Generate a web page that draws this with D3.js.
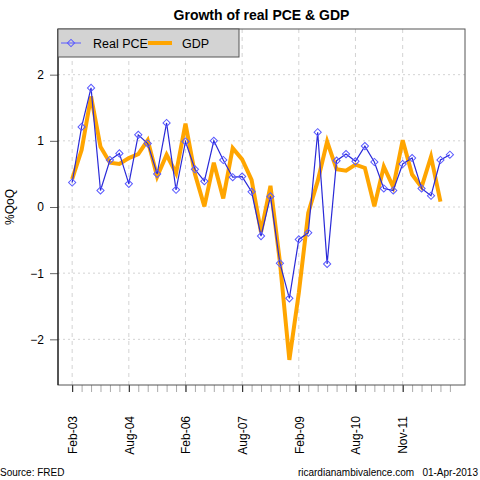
<!DOCTYPE html>
<html>
<head>
<meta charset="utf-8">
<script src="https://cdn.jsdelivr.net/npm/d3@7"></script>
<style>
  body { margin: 0; background: #fff; }
  svg { font-family: "Liberation Sans", Arial, sans-serif; }
</style>
</head>
<body>
<div id="chart"></div>
<script>
// quarterly growth, % q/q, first point = Feb-03
var pce = [0.37, 1.21, 1.80, 0.25, 0.71, 0.81, 0.35, 1.09, 0.96, 0.50,
  1.27, 0.26, 0.99, 0.57, 0.39, 1.00, 0.71, 0.45, 0.46, 0.23,
  -0.44, 0.16, -0.85, -1.38, -0.49, -0.39, 1.13, -0.86, 0.70, 0.80,
  0.69, 0.92, 0.68, 0.28, 0.25, 0.65, 0.74, 0.28, 0.17, 0.71, 0.79]
var gdp = [0.42, 0.86, 1.67, 0.91, 0.67, 0.65, 0.74, 0.80, 1.01, 0.46,
  0.79, 0.51, 1.26, 0.50, 0.01, 0.67, 0.13, 0.89, 0.72, 0.41,
  -0.38, 0.32, -0.83, -2.31, -1.30, -0.09, 0.39, 0.99, 0.57, 0.55,
  0.64, 0.59, 0.01, 0.61, 0.30, 1.01, 0.49, 0.30, 0.76, 0.08]
// x tick labels (quarter index -> label)
var tickIdx = [0, 6, 12, 18, 24, 30, 35]
var tickLabels = ['Feb-03', 'Aug-04', 'Feb-06', 'Aug-07', 'Feb-09', 'Aug-10', 'Nov-11']
var yTicks = [-2, -1, 0, 1, 2]

var width = 480
var height = 480
var box = {left: 58, right: 465, top: 29, bottom: 385}

var svg = d3.select('#chart').append('svg')
  .attr('width', width)
  .attr('height', height)

var x = d3.scaleLinear()
  .domain([-1.5, 41.6])
  .range([box.left, box.right])
var y = d3.scaleLinear()
  .domain([-2.69, 2.69])
  .range([box.bottom, box.top])

// 网格
svg.append('g').selectAll('line')
  .data(yTicks)
  .enter().append('line')
  .attr('x1', box.left).attr('x2', box.right)
  .attr('y1', d => y(d)).attr('y2', d => y(d))
  .attr('stroke', '#d3d3d3')
  .attr('stroke-dasharray', '2,3')
svg.append('g').selectAll('line')
  .data(tickIdx)
  .enter().append('line')
  .attr('x1', d => x(d)).attr('x2', d => x(d))
  .attr('y1', box.top).attr('y2', box.bottom)
  .attr('stroke', '#d3d3d3')
  .attr('stroke-dasharray', '4,4')

// GDP
svg.append('path')
  .datum(gdp)
  .attr('fill', 'none')
  .attr('stroke', '#ffa500')
  .attr('stroke-width', 4)
  .attr('stroke-linejoin', 'miter')
  .attr('d', d3.line().x((d, i) => x(i)).y(d => y(d)))

// Real PCE
svg.append('path')
  .datum(pce)
  .attr('fill', 'none')
  .attr('stroke', '#2a2ad8')
  .attr('stroke-width', 1.2)
  .attr('d', d3.line().x((d, i) => x(i)).y(d => y(d)))
var diamond = d3.symbol().type(d3.symbolSquare).size(26)
svg.append('g').selectAll('path')
  .data(pce)
  .enter().append('path')
  .attr('d', diamond)
  .attr('transform', (d, i) => `translate(${x(i)},${y(d)}) rotate(45)`)
  .attr('fill', 'none')
  .attr('stroke', '#5a5aff')
  .attr('stroke-width', 1)

// 坐标轴
var yAxis = svg.append('g')
  .attr('transform', `translate(${box.left},0)`)
  .call(d3.axisLeft(y).tickValues(yTicks).tickSize(8).tickPadding(6).tickFormat(d3.format('d')))
yAxis.select('.domain').remove()
yAxis.selectAll('.tick line').attr('stroke', '#666')
yAxis.selectAll('text').attr('font-size', 12).attr('fill', '#000').attr('font-family', null)

var xMinor = svg.append('g')
  .attr('transform', `translate(0,${box.bottom})`)
  .call(d3.axisBottom(x).tickValues(d3.range(0, 41)).tickSize(7).tickFormat(''))
xMinor.select('.domain').remove()
xMinor.selectAll('.tick line').attr('stroke', '#aaa')

var xAxis = svg.append('g')
  .attr('transform', `translate(0,${box.bottom})`)
  .call(d3.axisBottom(x).tickValues(tickIdx).tickSize(7)
    .tickFormat((d, i) => tickLabels[i]))
xAxis.select('.domain').remove()
xAxis.selectAll('.tick line').attr('stroke', '#222')
xAxis.selectAll('text')
  .attr('font-size', 12)
  .attr('fill', '#000')
  .attr('font-family', null)
  .attr('text-anchor', 'end')
  .attr('transform', 'rotate(-90)')
  .attr('x', -31)
  .attr('y', 0)
  .attr('dy', '0.35em')

// 外框
svg.append('rect')
  .attr('x', box.left).attr('y', box.top)
  .attr('width', box.right - box.left)
  .attr('height', box.bottom - box.top)
  .attr('fill', 'none')
  .attr('stroke', '#555')
svg.append('line')
  .attr('x1', box.left).attr('x2', box.left)
  .attr('y1', box.top).attr('y2', box.bottom)
  .attr('stroke', '#000')

// 图例
var legend = svg.append('g')
legend.append('rect')
  .attr('x', box.left).attr('y', box.top)
  .attr('width', 181).attr('height', 28)
  .attr('fill', '#d3d3d3')
  .attr('stroke', '#555')
legend.append('line')
  .attr('x1', 61).attr('x2', 81).attr('y1', 43).attr('y2', 43)
  .attr('stroke', '#5a5aff')
legend.append('path')
  .attr('d', diamond)
  .attr('transform', 'translate(71,43) rotate(45)')
  .attr('fill', 'none')
  .attr('stroke', '#5a5aff')
legend.append('text')
  .attr('x', 93).attr('y', 47.5)
  .attr('font-size', 12.5)
  .text('Real PCE')
legend.append('line')
  .attr('x1', 148).attr('x2', 172).attr('y1', 43).attr('y2', 43)
  .attr('stroke', '#ffa500')
  .attr('stroke-width', 4)
legend.append('text')
  .attr('x', 182).attr('y', 47.5)
  .attr('font-size', 12.5)
  .text('GDP')

// 标题和注释
svg.append('text')
  .attr('x', (box.left + box.right) / 2).attr('y', 20)
  .attr('text-anchor', 'middle')
  .attr('font-size', 14)
  .attr('font-weight', 'bold')
  .text('Growth of real PCE & GDP')
svg.append('text')
  .attr('transform', `translate(14,${(box.top + box.bottom) / 2}) rotate(-90)`)
  .attr('text-anchor', 'middle')
  .attr('font-size', 12)
  .text('%QoQ')
svg.append('text')
  .attr('x', 0).attr('y', 476)
  .attr('font-size', 10)
  .text('Source: FRED')
svg.append('text')
  .attr('x', 478).attr('y', 476)
  .attr('text-anchor', 'end')
  .attr('font-size', 10)
  .attr('xml:space', 'preserve')
  .text('ricardianambivalence.com   01-Apr-2013')
</script>
</body>
</html>
